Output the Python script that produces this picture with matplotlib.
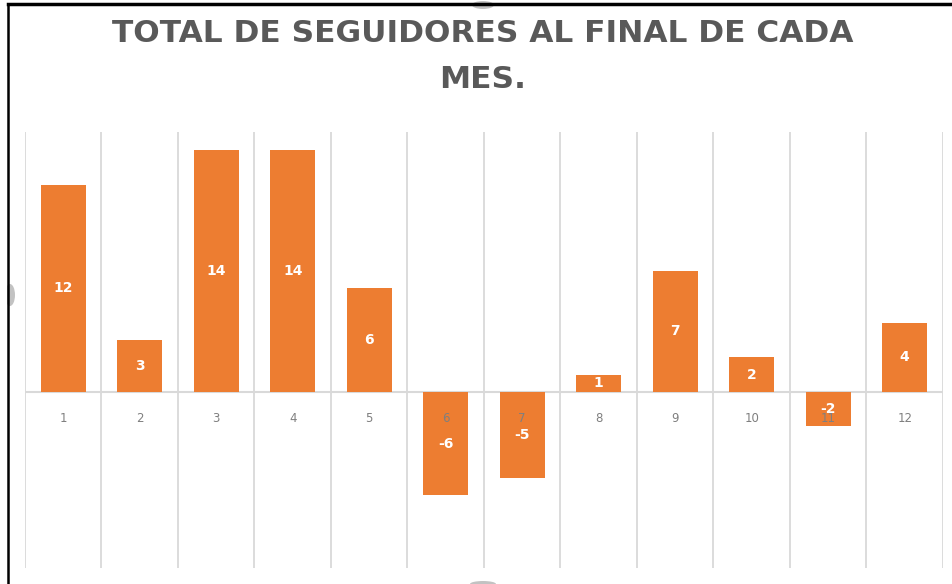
import matplotlib
matplotlib.use("Agg")
import matplotlib.pyplot as plt
from matplotlib.lines import Line2D
from matplotlib.patches import Ellipse
import numpy as np

# seguidores ganados / perdidos en cada mes
meses = ['1', '2', '3', '4', '5', '6', '7', '8', '9', '10', '11', '12']
seguidores = [12, 3, 14, 14, 6, -6, -5, 1, 7, 2, -2, 4]

naranja = '#ED7D31'
gris_grid = '#D9D9D9'
gris_texto = '#595959'

W, H = 953, 584
fig = plt.figure(figsize=(W / 100, H / 100), dpi=100)
ax = fig.add_axes([25 / W, 1 - 568 / H, 918 / W, 436 / H])

x = np.arange(len(meses))
ax.bar(x, seguidores, width=0.59, color=naranja, zorder=3)

ax.set_xlim(-0.5, len(meses) - 0.5)
ax.set_ylim(-10.2, 15.05)

# lineas verticales entre categorias y linea del cero
for b in np.arange(-0.5, len(meses), 1.0):
    ax.axvline(b, color=gris_grid, lw=1.3, zorder=1)
ax.axhline(0, color=gris_grid, lw=1.5, zorder=2)

for s in ax.spines.values():
    s.set_visible(False)
ax.set_xticks([])
ax.set_yticks([])

# etiquetas de categoria debajo del eje cero
for xi, m in zip(x, meses):
    ax.annotate(m, (xi, 0), xytext=(0, -27), textcoords='offset pixels',
                ha='center', va='center', fontsize=8.5, color='#7F7F7F',
                zorder=4)

# valores dentro de cada barra
for xi, v in zip(x, seguidores):
    ax.text(xi, v / 2, str(v), ha='center', va='center', fontsize=10,
            fontweight='bold', color='white', zorder=5)

fig.text(483 / W, 1 - 33 / H, 'TOTAL DE SEGUIDORES AL FINAL DE CADA',
         ha='center', va='center', fontsize=22.5, fontweight='bold',
         color=gris_texto)
fig.text(483 / W, 1 - 80 / H, 'MES.', ha='center', va='center',
         fontsize=22.5, fontweight='bold', color=gris_texto)

# asas de seleccion del grafico (gris)
for cx, cy, ew, eh in [(10, 295, 10, 22), (483, 5, 22, 8), (483, 584, 26, 6)]:
    fig.add_artist(Ellipse((cx / W, 1 - cy / H), ew / W, eh / H,
                           transform=fig.transFigure, color='#9A9A9A',
                           alpha=0.6, lw=0))

# marco negro arriba y a la izquierda (tapa la mitad de las asas)
fig.add_artist(Line2D([8 / W, 1], [1 - 4 / H, 1 - 4 / H],
                      transform=fig.transFigure, color='black', lw=2.5))
fig.add_artist(Line2D([8 / W, 8 / W], [0, 1 - 4 / H],
                      transform=fig.transFigure, color='black', lw=1.8))
fig.add_artist(plt.Rectangle((0, 0), 7 / W, 1, transform=fig.transFigure,
                             color='white', lw=0))

fig.savefig('out.png', dpi=100)
